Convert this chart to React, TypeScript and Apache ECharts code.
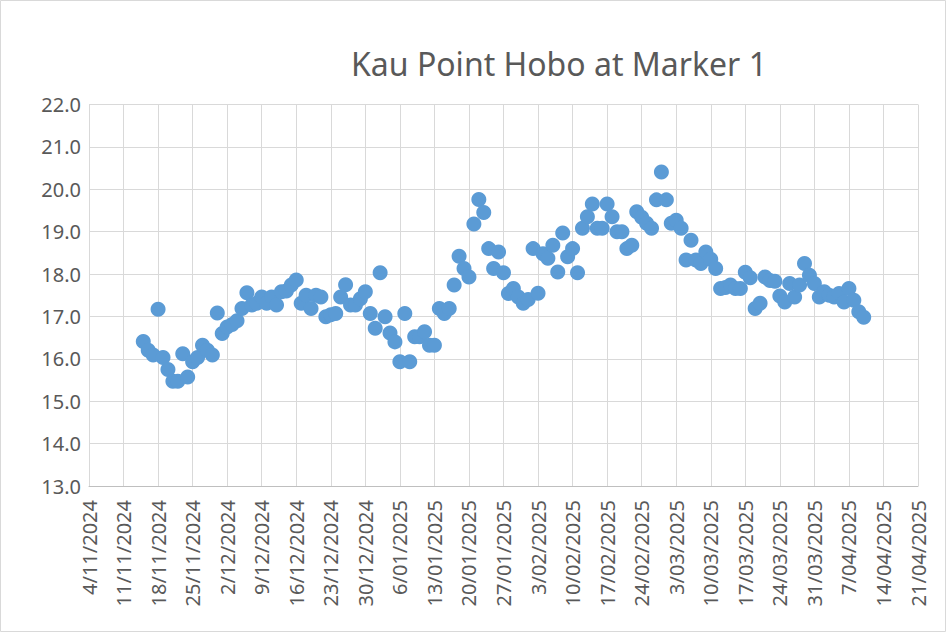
import React, { useEffect, useRef } from "react";
import * as echarts from "echarts";

// Axis reference date (first tick) and the first logged day
const axisStart = "2024-11-04";
const axisEnd = "2025-04-21";
const firstDay = "2024-11-15";

// Daily temperature readings (°C), one per day starting at firstDay
const temps: number[] = [
  16.41, 16.2, 16.09, 17.17, 16.03, 15.75, 15.47, 15.47, 16.12, 15.57,
  15.93, 16.03, 16.32, 16.2, 16.09, 17.08, 16.6, 16.75, 16.81, 16.9,
  17.19, 17.56, 17.27, 17.31, 17.46, 17.31, 17.46, 17.27, 17.58, 17.6,
  17.74, 17.86, 17.31, 17.5, 17.19, 17.5, 17.46, 16.99, 17.04, 17.07,
  17.46, 17.75, 17.27, 17.27, 17.42, 17.58, 17.07, 16.72, 18.03, 16.99,
  16.61, 16.4, 15.93, 17.07, 15.93, 16.52, 16.52, 16.64, 16.32, 16.32,
  17.19, 17.07, 17.19, 17.74, 18.42, 18.13, 17.93, 19.18, 19.76, 19.45,
  18.6, 18.13, 18.52, 18.03, 17.54, 17.66, 17.46, 17.31, 17.4, 18.6,
  17.55, 18.48, 18.37, 18.68, 18.05, 18.97, 18.41, 18.6, 18.03, 19.08,
  19.35, 19.65, 19.08, 19.08, 19.65, 19.35, 19.0, 19.0, 18.6, 18.68,
  19.47, 19.34, 19.2, 19.08, 19.75, 20.41, 19.75, 19.2, 19.27, 19.08,
  18.33, 18.8, 18.33, 18.25, 18.52, 18.35, 18.13, 17.66, 17.68, 17.74,
  17.66, 17.66, 18.04, 17.91, 17.19, 17.31, 17.93, 17.85, 17.83, 17.48,
  17.34, 17.78, 17.46, 17.74, 18.25, 17.97, 17.78, 17.46, 17.58, 17.5,
  17.46, 17.54, 17.34, 17.66, 17.38, 17.11, 16.98,
];

const title = "Kau Point Hobo at Marker 1";
const yMin = 13;
const yMax = 22;

const DAY = 86400000;
function utc(s: string) {
  const [y, m, d] = s.split("-").map(Number);
  return Date.UTC(y, m - 1, d);
}
const startMs = utc(axisStart);
const spanDays = (utc(axisEnd) - startMs) / DAY;
const firstOffset = (utc(firstDay) - startMs) / DAY;

function fmt(dayOffset: number) {
  const d = new Date(startMs + Math.round(dayOffset) * DAY);
  const dd = d.getUTCDate();
  const mm = String(d.getUTCMonth() + 1).padStart(2, "0");
  return `${dd}/${mm}/${d.getUTCFullYear()}`;
}

const FONT = "'Noto Sans', 'Open Sans', sans-serif";

export default function App() {
  const ref = useRef<HTMLDivElement>(null);
  useEffect(() => {
    document.body.style.margin = "0";
    if (!ref.current) return;
    const chart = echarts.init(ref.current, undefined, { renderer: "svg" });
    const data = temps.map((v, i) => [firstOffset + i, v]);
    chart.setOption({
      animation: false,
      backgroundColor: "#ffffff",
      title: {
        text: title,
        left: 554,
        top: 42,
        textAlign: "center",
        textStyle: { fontFamily: FONT, fontSize: 32, fontWeight: "normal", color: "#595959" },
      },
      graphic: [
        {
          type: "rect",
          shape: { x: 0.5, y: 0.5, width: 945, height: 631 },
          style: { fill: "none", stroke: "#D9D9D9", lineWidth: 1 },
          silent: true,
        },
      ],
      grid: { left: 89, right: 28, top: 104.5, bottom: 146, containLabel: false },
      xAxis: {
        type: "value",
        min: 0,
        max: spanDays,
        interval: 7,
        axisLine: { show: true, lineStyle: { color: "#BFBFBF", width: 1 } },
        axisTick: { show: false },
        splitLine: { show: true, lineStyle: { color: "#D9D9D9", width: 1 } },
        axisLabel: {
          rotate: 90,
          margin: 14,
          fontFamily: FONT,
          fontSize: 20,
          color: "#595959",
          formatter: (v: number) => fmt(v),
        },
      },
      yAxis: {
        type: "value",
        min: yMin,
        max: yMax,
        interval: 1,
        axisLine: { show: false },
        axisTick: { show: false },
        splitLine: { show: true, lineStyle: { color: "#D9D9D9", width: 1 } },
        axisLabel: {
          margin: 8,
          fontFamily: FONT,
          fontSize: 20,
          color: "#595959",
          formatter: (v: number) => v.toFixed(1),
        },
      },
      series: [
        {
          type: "scatter",
          data,
          symbol: "circle",
          symbolSize: 15,
          itemStyle: { color: "#5B9BD5", opacity: 1 },
        },
      ],
    });
    return () => chart.dispose();
  }, []);
  return <div ref={ref} style={{ width: 946, height: 632 }} />;
}
